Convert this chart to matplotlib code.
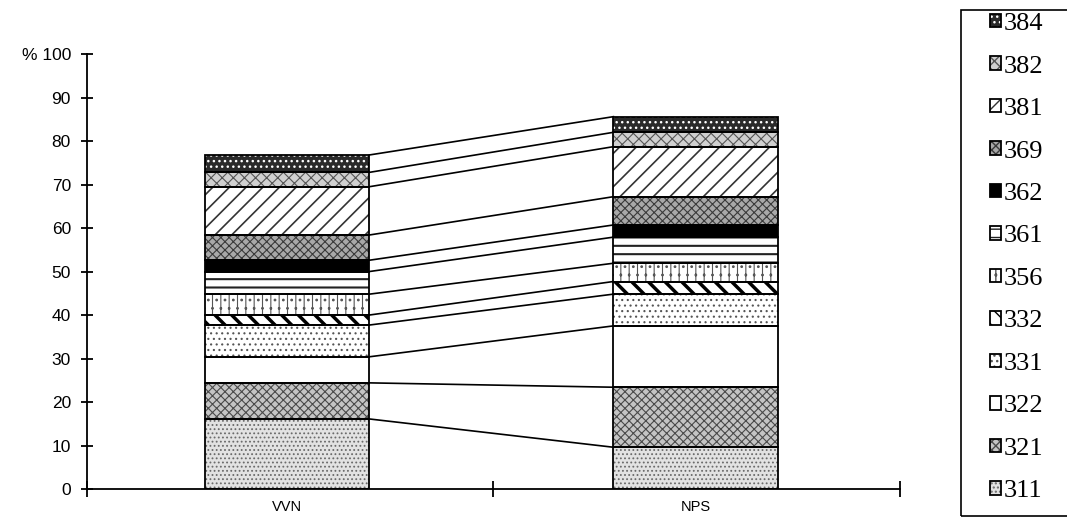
import matplotlib.pyplot as plt
from matplotlib.patches import Patch, Rectangle
from matplotlib.legend_handler import HandlerTuple
import numpy as np

groups = ['VVN', 'NPS']
codes = ['311', '321', '322', '331', '332', '356', '361', '362', '369', '381', '382', '384']
vvn = [16.1, 8.3, 6.0, 7.3, 2.3, 4.8, 5.2, 2.6, 5.8, 11.1, 3.3, 4.0]
nps = [9.6, 13.8, 14.1, 7.3, 2.9, 4.2, 6.0, 2.8, 6.5, 11.5, 3.3, 3.6]
yticks = [0, 10, 20, 30, 40, 50, 60, 70, 80, 90, 100]
yticklabels = ['0', '10', '20', '30', '40', '50', '60', '70', '80', '90', '% 100']

# (face, hatch colour, hatch, hatch width) per code
styles = {
    '311': ('#e2e2e2', '#6a6a6a', '....', 0.8),
    '321': ('#c4c4c4', '#4a4a4a', 'xxxx', 0.8),
    '322': ('white', 'white', '', 0.8),
    '331': ('white', '#555555', '...', 0.8),
    '332': ('white', 'black', '\\\\', 2.5),
    '356': ('white', '#555555', '||..', 0.8),
    '361': ('white', '#222222', '--', 1.5),
    '362': ('black', 'black', '', 0.8),
    '369': ('#a8a8a8', '#3a3a3a', 'xxxx', 0.8),
    '381': ('white', '#333333', '//', 1.2),
    '382': ('#d0d0d0', '#555555', 'xxx', 0.8),
    '384': ('#2a2a2a', 'white', '...', 1.0),
}

data = np.array([vvn, nps])
x = np.array([0.493, 1.497])
width = 0.404

fig = plt.figure(figsize=(10.67, 5.23), dpi=100)
ax = fig.add_axes([0.0815, 0.065, 0.762, 0.8317])

bottoms = np.zeros(2)
handles = []
for i, code in enumerate(codes):
    face, hc, hatch, hw = styles[code]
    with plt.rc_context({'hatch.linewidth': hw}):
        ax.bar(x, data[:, i], width, bottom=bottoms, color=face,
               edgecolor=hc, hatch=hatch, linewidth=0, zorder=2)
        fill = Patch(facecolor=face, edgecolor=hc, hatch=hatch, linewidth=0)
    outline = Patch(fill=False, edgecolor='black', linewidth=1.3)
    handles.append((fill, outline))
    ax.bar(x, data[:, i], width, bottom=bottoms, fill=False,
           edgecolor='black', linewidth=1.3, zorder=3)
    bottoms = bottoms + data[:, i]

# connector lines between the segment tops
tops = np.cumsum(data, axis=1)
for j in range(len(codes)):
    ax.plot([x[0] + width / 2, x[1] - width / 2], [tops[0, j], tops[1, j]],
            color='black', linewidth=1.2, zorder=1)

ax.set_xlim(0, 2)
ax.set_ylim(0, 100)
for s in ['top', 'right']:
    ax.spines[s].set_visible(False)
ax.spines['left'].set_linewidth(1.3)
ax.spines['bottom'].set_linewidth(1.3)

ax.set_yticks(yticks)
ax.set_yticklabels(yticklabels, fontsize=12.5, family='Liberation Sans')
ax.tick_params(axis='y', direction='inout', length=9, width=1.3, pad=7)
ax.set_xticks([0, 1, 2])
ax.set_xticklabels([])
ax.tick_params(axis='x', which='major', direction='inout', length=12, width=1.3)
ax.set_xticks(x, minor=True)
ax.set_xticklabels(groups, minor=True, fontsize=10.5, family='Liberation Sans')
ax.tick_params(axis='x', which='minor', length=0, pad=8)

# legend box, open on the right like the original
fig.patches.append(Rectangle((0.9006, 0.0134), 0.2, 0.967, transform=fig.transFigure,
                             fill=False, edgecolor='black', linewidth=1.2))
leg = fig.legend(handles[::-1], codes[::-1], loc='upper left',
                 bbox_to_anchor=(0.928, 0.975),
                 handler_map={tuple: HandlerTuple(ndivide=1)},
                 frameon=False, prop={'family': 'Liberation Serif', 'size': 19},
                 handlelength=0.4, handleheight=0.4, handletextpad=0.12,
                 labelspacing=0.776, borderpad=0, borderaxespad=0)

plt.savefig('out.png', dpi=100)
